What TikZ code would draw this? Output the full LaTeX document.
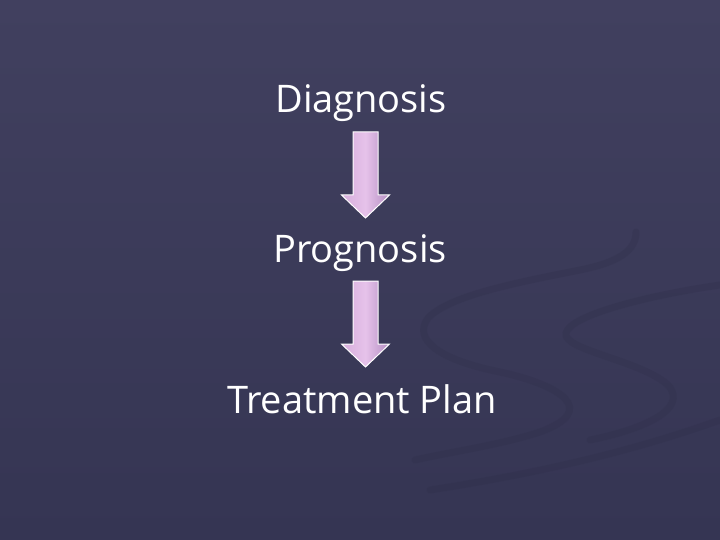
\documentclass[tikz,border=0pt]{standalone}
\usepackage{fontspec}
\setmainfont{Open Sans}
\begin{document}
\begin{tikzpicture}[x=1pt,y=-1pt]
\tikzset{
  label/.style={text=white, font=\fontsize{38}{42}\selectfont, inner sep=0pt, anchor=base},
  swirl/.style={draw=swirlc, opacity=0.25, line width=7pt, line cap=round},
  blockarrow/.style={left color=arrowL, right color=arrowR, middle color=arrowM, draw=white, line width=1pt, line join=miter}
}
\definecolor{bgtop}{HTML}{41405F}
\definecolor{bgbot}{HTML}{353553}
\definecolor{swirlc}{HTML}{2E2E48}
\definecolor{arrowL}{HTML}{D6AEDC}
\definecolor{arrowM}{HTML}{E6C2EA}
\definecolor{arrowR}{HTML}{B48EC2}
\useasboundingbox (0,0) rectangle (720,540);
\shade[top color=bgtop, bottom color=bgbot] (0,0) rectangle (720,540);
% faint background swirls
\draw[swirl] (636,232) .. controls (636,250) and (620,262) .. (580,270) .. controls (520,282) and (450,295) .. (428,318) .. controls (412,340) and (440,360) .. (500,372) .. controls (560,385) and (600,410) .. (540,432) .. controls (500,445) and (450,452) .. (415,460);
\draw[swirl] (720,285) .. controls (650,295) and (570,315) .. (566,333) .. controls (562,350) and (640,360) .. (668,385) .. controls (690,410) and (640,430) .. (590,440);
\draw[swirl] (430,490) .. controls (560,470) and (650,445) .. (720,420);
% texts
\node[label] (diag) at (361,113) {Diagnosis};
\node[label] (prog) at (360,262) {Prognosis};
\node[label] (treat) at (362,413) {Treatment Plan};
% arrows
\coordinate (a1) at (365.5,132);
\coordinate (a2) at (365.5,281);
\foreach \c in {a1,a2}{
  \shade[blockarrow] ([xshift=-12.5pt]\c) -- ([xshift=12.5pt]\c) -- ([xshift=12.5pt,yshift=-63pt]\c) -- ([xshift=24pt,yshift=-63pt]\c) -- ([yshift=-86pt]\c) -- ([xshift=-24pt,yshift=-63pt]\c) -- ([xshift=-12.5pt,yshift=-63pt]\c) -- cycle;
}
\end{tikzpicture}
\end{document}
